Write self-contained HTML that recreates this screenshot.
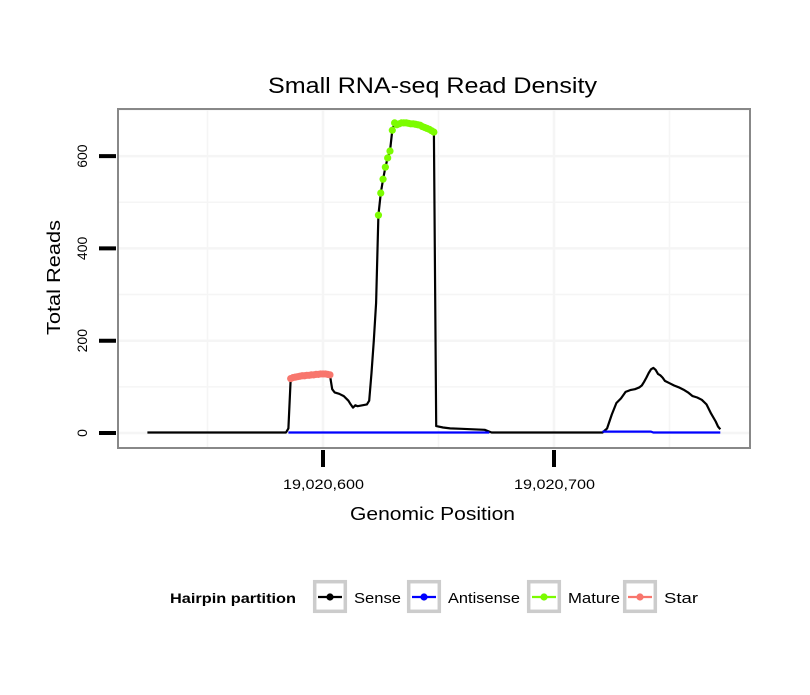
<!DOCTYPE html>
<html><head><meta charset="utf-8"><style>
body{margin:0;background:#fff;font-family:"Liberation Sans",Arial,sans-serif}
svg text{font-family:"Liberation Sans",Arial,sans-serif}
</style></head><body>
<svg id="chart" width="810" height="690" xmlns="http://www.w3.org/2000/svg">
<rect width="810" height="690" fill="#fff"/>
<text x="268" y="93" font-size="22" textLength="329" lengthAdjust="spacingAndGlyphs">Small RNA-seq Read Density</text>
<g id="grid"></g>
<g id="marks"></g>
<rect x="118" y="109" width="632" height="339" fill="none" stroke="#888" stroke-width="2"/>
<g id="axes"></g>
<text x="350" y="520" font-size="18" textLength="165" lengthAdjust="spacingAndGlyphs">Genomic Position</text>
<text transform="translate(60,335) rotate(-90)" font-size="18" textLength="115" lengthAdjust="spacingAndGlyphs">Total Reads</text>
<g>
<text x="170" y="603" font-size="14" font-weight="bold" textLength="126" lengthAdjust="spacingAndGlyphs">Hairpin partition</text>
<g id="legend"></g>
</g>
</svg>
<script>
const xTicks = [600, 700];
const xTickLabels = ["19,020,600", "19,020,700"];
const yTicks = [0, 200, 400, 600];
const yTickLabels = ["0", "200", "400", "600"];
const sensePos = [524,584,585,586,587,588,589,590,591,592,593,594,595,596,597,598,599,600,601,602,603,604,605,607,609,611,612,613,614,615,617,619,620,621,622,623,624,625,626,627,628,629,630,631,632,633,634,635,636,637,638,639,640,641,642,643,644,645,646,647,648,649,652,655,660,665,670,672,673,720,721,723,725,727,729,731,733,735,737,738,739,740,741,742,743,744,745,746,747,748,750,752,754,756,758,760,762,764,766,768,770,771,772];
const senseVal = [1,1,10,118,120,121,122,123,124,124,125,125,126,126,127,127,128,128,128,127,126,95,88,85,80,70,62,55,60,58,60,62,70,130,200,282,472,520,550,576,596,611,656,672,668,670,672,672,672,671,670,670,669,668,667,664,662,660,658,655,652,15,12,10,9,8,7,3,1,1,1,10,40,65,75,89,93,95,99,103,111,120,130,138,141,137,128,125,120,113,108,103,99,94,88,80,77,72,62,42,25,14,8,4];
const antiPos1 = [585,672];
const antiVal1 = [1,1];
const antiPos2 = [721,742,743,772];
const antiVal2 = [3,3,1,1];
const starStart = 586, starEnd = 603;
const matureStart = 624, matureEnd = 648;

const X0=323, PXBP=2.31, Y0=433, PXR=0.4615;
const xs = p => X0 + (p-600)*PXBP;
const ys = v => Y0 - v*PXR;
const NS="http://www.w3.org/2000/svg";
function mk(tag, parent, attrs){const e=document.createElementNS(NS,tag);for(const k in attrs)e.setAttribute(k,attrs[k]);parent.appendChild(e);return e;}
const grid=document.getElementById('grid'), marks=document.getElementById('marks'), axes=document.getElementById('axes'), legend=document.getElementById('legend');

[0,100,200,300,400,500,600,700].forEach(v=>{const g=mk('line',grid,{x1:118,x2:750,y1:ys(v),y2:ys(v),stroke:'#f5f5f5','stroke-width':v%200?1.5:2.5});

});
[550,600,650,700,750].forEach(p=>{const g=mk('line',grid,{x1:xs(p),x2:xs(p),y1:109,y2:448,stroke:'#f5f5f5','stroke-width':p%100?1.5:2.5});

});

function line(pos, val, color, name){
  const d=pos.map((p,i)=>(i?'L':'M')+xs(p).toFixed(1)+','+ys(val[i]).toFixed(1)).join('');
  const e=mk('path',marks,{d:d,fill:'none',stroke:color,'stroke-width':2.2,'stroke-linejoin':'round'});
  
  
}
line(sensePos,senseVal,'#000','sense-line');
line(antiPos1,antiVal1,'#0000ff','antisense-line');
line(antiPos2,antiVal2,'#0000ff','antisense-line');
sensePos.forEach((p,i)=>{
  let c=null,n=null;
  if(p>=starStart&&p<=starEnd){c='#f8766d';n='star-point';}
  if(p>=matureStart&&p<=matureEnd){c='#7cfc00';n='mature-point';}
  if(c){const e=mk('circle',marks,{cx:xs(p),cy:ys(senseVal[i]),r:3.6,fill:c});
  
  }
});

yTicks.forEach((v,i)=>{
  const t=mk('line',axes,{x1:99,x2:116,y1:ys(v),y2:ys(v),stroke:'#000','stroke-width':4});
  
  
  const l=mk('text',axes,{transform:`translate(87,${ys(v)}) rotate(-90)`,'font-size':14,'text-anchor':'middle'});
  l.textContent=yTickLabels[i];
  
  
});
xTicks.forEach((p,i)=>{
  const t=mk('line',axes,{x1:xs(p),x2:xs(p),y1:450,y2:467,stroke:'#000','stroke-width':4});
  
  
  const l=mk('text',axes,{x:xs(p)-40,y:489,'font-size':14,textLength:81,lengthAdjust:'spacingAndGlyphs'});
  l.textContent=xTickLabels[i];
  
  
});

const legNames=["Sense","Antisense","Mature","Star"];
const legColors=["#000","#0000ff","#7cfc00","#f8766d"];
const legX=[313,407,527,623];
const legW=[47,72,52,34];
legNames.forEach((n,i)=>{
  const x=legX[i];
  const g=mk('g',legend,{});
  
  
  mk('rect',g,{x:x+1.7,y:581.7,width:30.6,height:29.6,fill:'#fff',stroke:'#cccccc','stroke-width':3.5});
  mk('line',g,{x1:x+5,x2:x+29,y1:597,y2:597,stroke:legColors[i],'stroke-width':2.2});
  mk('circle',g,{cx:x+17,cy:597,r:3.6,fill:legColors[i]});
  const t=mk('text',g,{x:x+41,y:603,'font-size':15,textLength:legW[i],lengthAdjust:'spacingAndGlyphs'});
  t.textContent=n;
});
</script>
</body></html>
